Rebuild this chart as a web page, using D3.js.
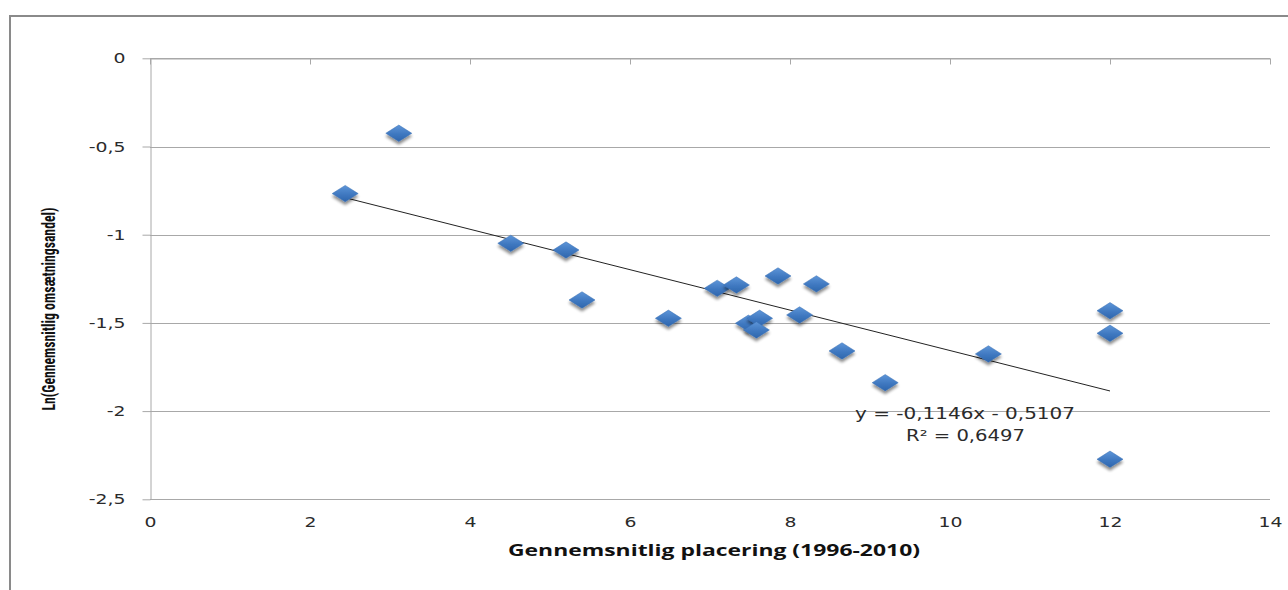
<!DOCTYPE html>
<html>
<head>
<meta charset="utf-8">
<script src="https://cdn.jsdelivr.net/npm/d3@7"></script>
<style>
  html, body { margin: 0; padding: 0; background: #fff; }
  svg { display: block; }
</style>
</head>
<body>
<script>
// ---- data ----
const placering = [2.44, 3.11, 4.51, 5.20, 5.40, 6.48, 7.09, 7.33, 7.85, 8.33, 7.48, 7.62, 7.58, 8.12, 8.65, 9.19, 10.48, 12.0, 12.0, 12.0];
const lnAndel   = [-0.767, -0.425, -1.049, -1.087, -1.370, -1.474, -1.304, -1.285, -1.234, -1.279, -1.502, -1.474, -1.540, -1.455, -1.659, -1.839, -1.676, -1.431, -1.559, -2.273];
const xTicks = [0, 2, 4, 6, 8, 10, 12, 14];
const yTicks = [0, -0.5, -1, -1.5, -2, -2.5];
const trendSlope = -0.1146;
const trendIntercept = -0.5107;
const rSquared = 0.6497;
const xTitle = "Gennemsnitlig placering (1996-2010)";
const yTitle = "Ln(Gennemsnitlig omsætningsandel)";

// ---- layout ----
const W = 1288, H = 590;
const plot = { left: 150, right: 1270, top: 58.3, bottom: 499.3 };
const sx = 1.3; // horizontal stretch of glyphs in the reference

const loc = d3.formatLocale({ decimal: ",", thousands: ".", grouping: [3], currency: ["", " kr"], minus: "-" });
const fmtTick = loc.format("~g");
const fmt4 = loc.format(".4f");

const svg = d3.select("body").append("svg").attr("width", W).attr("height", H);
svg.append("rect").attr("width", W).attr("height", H).attr("fill", "#fff");

const defs = svg.append("defs");
const grad = defs.append("linearGradient").attr("id", "mk").attr("x1", 0).attr("y1", 0).attr("x2", 0).attr("y2", 1);
grad.append("stop").attr("offset", "0%").attr("stop-color", "#5d95d8");
grad.append("stop").attr("offset", "55%").attr("stop-color", "#3f78c0");
grad.append("stop").attr("offset", "100%").attr("stop-color", "#2e66ad");
const sh = defs.append("filter").attr("id", "sh").attr("x", "-50%").attr("y", "-50%").attr("width", "200%").attr("height", "200%");
sh.append("feGaussianBlur").attr("in", "SourceAlpha").attr("stdDeviation", 1.6).attr("result", "b");
sh.append("feOffset").attr("in", "b").attr("dx", 0).attr("dy", 2.5).attr("result", "o");
sh.append("feComponentTransfer").attr("in", "o").attr("result", "o2")
  .append("feFuncA").attr("type", "linear").attr("slope", 0.45);
const mg = sh.append("feMerge");
mg.append("feMergeNode").attr("in", "o2");
mg.append("feMergeNode").attr("in", "SourceGraphic");

// outer chart border
svg.append("rect").attr("x", 10).attr("y", 16).attr("width", W + 20).attr("height", H + 20)
  .attr("fill", "none").attr("stroke", "#8a8a8a").attr("stroke-width", 2);

const x = d3.scaleLinear().domain([0, 14]).range([plot.left, plot.right]);
const y = d3.scaleLinear().domain([-2.5, 0]).range([plot.bottom, plot.top]);

// gridlines
svg.append("g").selectAll("line").data(yTicks).join("line")
  .attr("x1", plot.left).attr("x2", plot.right)
  .attr("y1", d => Math.round(y(d)) + 0.5).attr("y2", d => Math.round(y(d)) + 0.5)
  .attr("stroke", "#a8a8a8").attr("stroke-width", 1);

// y axis
const gy = svg.append("g").attr("transform", `translate(${plot.left + 0.5},0)`)
  .call(d3.axisLeft(y).tickValues(yTicks).tickFormat(fmtTick).tickSize(8).tickPadding(17).tickSizeOuter(0));
gy.select(".domain").attr("stroke", "#a8a8a8");
gy.selectAll(".tick line").attr("stroke", "#a8a8a8");
gy.selectAll(".tick text")
  .attr("font-family", "'DejaVu Sans', sans-serif").attr("font-size", 14.5).attr("fill", "#2b2b2b")
  .attr("x", -25 / sx).attr("transform", `scale(${sx},1)`);

// x axis line at y = 0 with ticks pointing down
const gxTop = svg.append("g").attr("transform", `translate(0,${Math.round(y(0)) + 0.5})`)
  .call(d3.axisBottom(x).tickValues(xTicks).tickSize(6).tickFormat("").tickSizeOuter(0));
gxTop.select(".domain").attr("stroke", "#a8a8a8");
gxTop.selectAll(".tick line").attr("stroke", "#a8a8a8");

// x tick labels at the bottom
const gxBot = svg.append("g").attr("transform", `translate(0,${plot.bottom})`)
  .call(d3.axisBottom(x).tickValues(xTicks).tickFormat(fmtTick).tickSize(0).tickPadding(17));
gxBot.select(".domain").remove();
gxBot.selectAll(".tick text")
  .attr("font-family", "'DejaVu Sans', sans-serif").attr("font-size", 14.5).attr("fill", "#2b2b2b")
  .attr("transform", `scale(${sx},1)`).attr("x", 0);

// trend line
const xmin = d3.min(placering), xmax = d3.max(placering);
svg.append("line")
  .attr("x1", x(xmin)).attr("y1", y(trendSlope * xmin + trendIntercept))
  .attr("x2", x(xmax)).attr("y2", y(trendSlope * xmax + trendIntercept))
  .attr("stroke", "#222").attr("stroke-width", 1);

// markers
const diamond = { draw(ctx, size) { const w = 13, h = 8.2; ctx.moveTo(0, -h); ctx.lineTo(w, 0); ctx.lineTo(0, h); ctx.lineTo(-w, 0); ctx.closePath(); } };
const pts = placering.map((v, i) => ({ px: v, py: lnAndel[i] }));
svg.append("g").selectAll("path").data(pts).join("path")
  .attr("d", d3.symbol(diamond, 100))
  .attr("transform", d => `translate(${x(d.px)},${y(d.py)})`)
  .attr("fill", "url(#mk)").attr("stroke", "#3a70b5").attr("stroke-width", 0.5)
  .attr("filter", "url(#sh)");

// equation
const eq = svg.append("g").attr("font-family", "'DejaVu Sans', sans-serif").attr("font-size", 15.5).attr("fill", "#2b2b2b").attr("text-anchor", "middle");
eq.append("text").attr("x", 965).attr("y", 419)
  .attr("textLength", 220).attr("lengthAdjust", "spacingAndGlyphs")
  .text(`y = ${fmt4(trendSlope)}x - ${fmt4(-trendIntercept)}`);
eq.append("text").attr("x", 965.5).attr("y", 440.5)
  .attr("textLength", 119).attr("lengthAdjust", "spacingAndGlyphs")
  .text(`R² = ${fmt4(rSquared)}`);

// axis titles
svg.append("text").attr("x", 714).attr("y", 555.5).attr("text-anchor", "middle")
  .attr("font-family", "'Open Sans', sans-serif").attr("font-weight", "bold").attr("font-size", 16).attr("fill", "#111")
  .attr("textLength", 412).attr("lengthAdjust", "spacingAndGlyphs")
  .text(xTitle);
svg.append("text").attr("transform", "translate(54.5,309) rotate(-90)").attr("text-anchor", "middle")
  .attr("font-family", "'Liberation Sans Narrow', 'Roboto Condensed', 'Liberation Sans', sans-serif").attr("font-weight", "bold").attr("font-size", 17.5).attr("fill", "#111")
  .attr("textLength", 203).attr("lengthAdjust", "spacingAndGlyphs")
  .text(yTitle);
</script>
</body>
</html>
